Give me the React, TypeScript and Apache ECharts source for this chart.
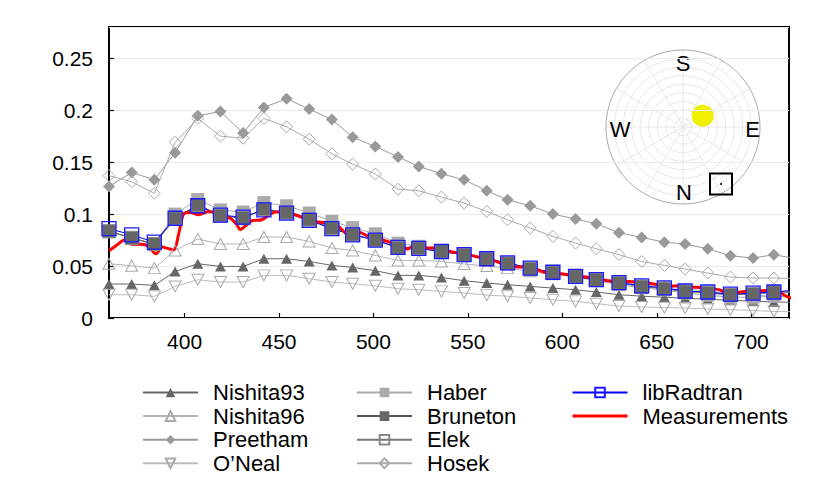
import React, { useEffect, useRef } from "react";
import * as echarts from "echarts";

const WAVELENGTHS = [360, 372, 384, 395, 407, 419, 431, 442, 454, 466, 478, 489, 501, 513, 524, 536, 548, 560, 571, 583, 595, 607, 618, 630, 642, 654, 665, 677, 689, 701, 712, 724];

const NISHITA93 = [0.0327, 0.0327, 0.0314, 0.0448, 0.0522, 0.0496, 0.0496, 0.057, 0.057, 0.0544, 0.0506, 0.0487, 0.0455, 0.041, 0.041, 0.039, 0.0359, 0.0336, 0.032, 0.0304, 0.0288, 0.0272, 0.025, 0.0224, 0.021, 0.02, 0.019, 0.018, 0.017, 0.016, 0.0155, 0.015];
const NISHITA96 = [0.0522, 0.0503, 0.048, 0.065, 0.076, 0.0712, 0.0712, 0.078, 0.078, 0.0737, 0.0673, 0.065, 0.0602, 0.0554, 0.0554, 0.0544, 0.052, 0.05, 0.048, 0.045, 0.042, 0.04, 0.037, 0.035, 0.032, 0.03, 0.028, 0.026, 0.024, 0.022, 0.021, 0.02];
const PREETHAM = [0.1265, 0.14, 0.133, 0.159, 0.1945, 0.1987, 0.178, 0.2025, 0.211, 0.201, 0.191, 0.174, 0.165, 0.155, 0.1458, 0.1388, 0.133, 0.1224, 0.1137, 0.108, 0.1, 0.0952, 0.0907, 0.082, 0.0775, 0.073, 0.0711, 0.0666, 0.0599, 0.0577, 0.0609, 0.057];
const ONEAL = [0.0224, 0.0224, 0.0208, 0.0304, 0.0368, 0.0346, 0.0346, 0.041, 0.041, 0.0378, 0.0346, 0.033, 0.031, 0.0282, 0.0272, 0.0256, 0.024, 0.022, 0.021, 0.0192, 0.0176, 0.016, 0.0138, 0.0115, 0.0106, 0.01, 0.0096, 0.0087, 0.008, 0.0073, 0.0063, 0.006];
const HABER = [0.083, 0.077, 0.071, 0.1, 0.114, 0.104, 0.102, 0.111, 0.108, 0.101, 0.093, 0.087, 0.081, 0.072, 0.069, 0.065, 0.061, 0.056, 0.052, 0.047, 0.043, 0.039, 0.036, 0.032, 0.029, 0.027, 0.024, 0.022, 0.02, 0.02, 0.021, 0.02];
const BRUNETON = [0.0837, 0.077, 0.071, 0.096, 0.109, 0.0984, 0.096, 0.105, 0.1015, 0.0945, 0.0865, 0.08, 0.0753, 0.0673, 0.0673, 0.064, 0.0609, 0.0567, 0.0529, 0.0474, 0.0438, 0.04, 0.0368, 0.0336, 0.0304, 0.0282, 0.0256, 0.024, 0.0224, 0.023, 0.025, 0.025];
const ELEK = [0.0835, 0.0772, 0.0712, 0.0958, 0.1088, 0.0986, 0.0962, 0.1048, 0.1013, 0.0947, 0.0863, 0.0802, 0.0751, 0.0675, 0.0671, 0.0642, 0.0607, 0.0569, 0.0527, 0.0476, 0.0436, 0.0402, 0.0366, 0.0338, 0.0302, 0.0284, 0.0254, 0.0242, 0.0222, 0.0232, 0.0248, 0.025];
const HOSEK = [0.137, 0.131, 0.12, 0.169, 0.192, 0.175, 0.173, 0.192, 0.184, 0.172, 0.158, 0.148, 0.1385, 0.124, 0.1224, 0.1163, 0.1106, 0.1025, 0.0945, 0.0865, 0.0785, 0.0721, 0.0666, 0.061, 0.0544, 0.0506, 0.0471, 0.0433, 0.0394, 0.0385, 0.0385, 0.038];
const LIBRADTRAN = [0.086, 0.08, 0.073, 0.096, 0.108, 0.099, 0.097, 0.104, 0.101, 0.094, 0.086, 0.08, 0.075, 0.068, 0.067, 0.064, 0.061, 0.057, 0.053, 0.048, 0.044, 0.04, 0.037, 0.034, 0.031, 0.029, 0.026, 0.025, 0.023, 0.024, 0.025, 0.027];

const MEAS_X = [360, 364, 368.5, 372, 377, 381, 384.8, 388.3, 391, 394.2, 397.2, 399.5, 403, 407.4, 412.7, 418.9, 424.2, 427.7, 429.5, 433, 435.6, 440.9, 444.4, 448, 451.5, 458.6, 465.6, 470.9, 479.8, 483.3, 486.8, 491.3, 497.4, 504.4, 510.6, 515, 517.7, 521.2, 525.6, 529.1, 534.4, 540.5, 543.2, 548.5, 555.5, 562.5, 569.6, 576.6, 582.8, 589.9, 596, 603.1, 610.2, 617.2, 624.3, 630.4, 634.8, 641.8, 650.6, 655.9, 659.4, 668.2, 676.2, 684.1, 687.6, 691.2, 698.2, 705.3, 710.6, 714.1, 719.4, 722];
const MEAS_Y = [0.0647, 0.07, 0.0753, 0.071, 0.071, 0.0689, 0.0618, 0.0683, 0.067, 0.0657, 0.0833, 0.1, 0.1015, 0.0993, 0.1025, 0.0993, 0.096, 0.0897, 0.085, 0.0897, 0.0936, 0.0945, 0.0986, 0.102, 0.102, 0.0993, 0.0945, 0.0923, 0.0904, 0.085, 0.08, 0.0833, 0.0785, 0.0753, 0.072, 0.0712, 0.0663, 0.0689, 0.0683, 0.0673, 0.0673, 0.064, 0.0631, 0.0615, 0.0587, 0.056, 0.0512, 0.049, 0.0496, 0.0442, 0.0433, 0.0416, 0.04, 0.0385, 0.0359, 0.0352, 0.0352, 0.0343, 0.032, 0.0298, 0.031, 0.0298, 0.0288, 0.0266, 0.0208, 0.024, 0.0256, 0.0263, 0.0266, 0.0256, 0.0202, 0.019];

const Y_TICKS = [0, 0.05, 0.1, 0.15, 0.2, 0.25];
const X_TICKS = [400, 450, 500, 550, 600, 650, 700];

const FONT = "Liberation Sans";

function pairs(xs: number[], ys: number[]) {
  return xs.map((x, i) => [x, ys[i]]);
}

function App() {
  const ref = useRef<HTMLDivElement>(null);
  useEffect(() => {
    if (!ref.current) return;
    const chart = echarts.init(ref.current, null, { renderer: "svg" });

    const mk = (name: string, ys: number[], symbol: string, size: any, fill: string, border: string, line: string, extra: any = {}) => ({
      name,
      type: "line",
      data: pairs(WAVELENGTHS, ys),
      symbol,
      symbolSize: size,
      showSymbol: true,
      clip: true,
      lineStyle: { color: line, width: 1 },
      itemStyle: { color: fill, borderColor: border, borderWidth: fill === "rgba(0,0,0,0)" ? 1 : 0 },
      emphasis: { disabled: true },
      ...extra,
    });

    const series: any[] = [
      mk("Nishita93", NISHITA93, "triangle", [11, 10], "#666666", "#666666", "#666666"),
      mk("Nishita96", NISHITA96, "triangle", [12, 11], "rgba(0,0,0,0)", "#aaaaaa", "#b4b4b4"),
      mk("Preetham", PREETHAM, "diamond", [12, 12], "#999999", "#999999", "#999999"),
      mk("O\u2019Neal", ONEAL, "triangle", [12, 11], "rgba(0,0,0,0)", "#aaaaaa", "#bbbbbb", { symbolRotate: 180 }),
      mk("Haber", HABER, "rect", [13, 13], "#aaaaaa", "#aaaaaa", "#aaaaaa"),
      mk("Bruneton", BRUNETON, "rect", [13, 13], "#666666", "#666666", "#555555"),
      mk("Elek", ELEK, "rect", [13, 13], "rgba(0,0,0,0)", "#888888", "#777777"),
      mk("Hosek", HOSEK, "diamond", [12, 12], "rgba(0,0,0,0)", "#aaaaaa", "#aaaaaa"),
      {
        name: "libRadtran",
        type: "line",
        data: pairs(WAVELENGTHS, LIBRADTRAN),
        symbol: "rect",
        symbolSize: [14, 14],
        clip: true,
        lineStyle: { color: "#0000ff", width: 1 },
        itemStyle: { color: "rgba(0,0,0,0)", borderColor: "#1a1aff", borderWidth: 1.3 },
        emphasis: { disabled: true },
      },
      {
        name: "Measurements",
        type: "line",
        data: pairs(MEAS_X, MEAS_Y),
        symbol: "none",
        smooth: 0.3,
        clip: true,
        lineStyle: { color: "#ff0000", width: 3 },
        itemStyle: { color: "#ff0000" },
        emphasis: { disabled: true },
      },
    ];

    const legendCommon = {
      orient: "vertical",
      top: 381.5,
      padding: 0,
      itemWidth: 55,
      itemHeight: 12,
      itemGap: 1.6,
      selectedMode: false,
      textStyle: { fontSize: 22, fontFamily: FONT, color: "#000", lineHeight: 20, padding: [0, 0, 0, 10] },
    };

    const cx = 683, cy = 127, R = 77;
    const rings: any[] = [];
    for (let i = 1; i <= 8; i++) {
      rings.push({ type: "circle", shape: { cx, cy, r: (R * i) / 9 }, style: { fill: "none", stroke: "#e8e8e8", lineWidth: 1 }, silent: true });
    }
    const spokes: any[] = [];
    for (let k = 0; k < 12; k++) {
      const a = (k * Math.PI) / 6;
      spokes.push({ type: "line", shape: { x1: cx, y1: cy, x2: cx + R * Math.cos(a), y2: cy + R * Math.sin(a) }, style: { stroke: "#e8e8e8", lineWidth: 1 }, silent: true });
    }
    const compassText = (text: string, x: number, y: number) => ({
      type: "text", x, y, silent: true,
      style: { text, fontSize: 22, fontFamily: FONT, fill: "#000", align: "center", verticalAlign: "middle" },
    });

    const option: any = {
      animation: false,
      backgroundColor: "#fff",
      grid: { left: 109, right: 41, top: 27, bottom: 170, show: true, borderColor: "#000", borderWidth: 2, backgroundColor: "rgba(0,0,0,0)" },
      xAxis: {
        type: "value",
        min: 360,
        max: 720,
        splitNumber: 7,
        axisLine: { show: false },
        axisTick: { inside: true, length: 5, lineStyle: { color: "#000", width: 1.2 } },
        splitLine: { show: false },
        axisLabel: {
          fontSize: 21, fontFamily: FONT, color: "#000", margin: 13,
          showMinLabel: false, showMaxLabel: false,
          formatter: (v: number) => (X_TICKS.indexOf(v) >= 0 ? String(v) : ""),
        },
      },
      yAxis: {
        type: "value",
        min: 0,
        max: 0.28,
        interval: 0.05,
        axisLine: { show: false },
        axisTick: { inside: true, length: 5, lineStyle: { color: "#000", width: 1.2 } },
        splitLine: { show: true, lineStyle: { color: "#ebebeb", width: 1 } },
        axisLabel: {
          fontSize: 21, fontFamily: FONT, color: "#000", margin: 16,
          showMaxLabel: false,
          formatter: (v: number) => (Y_TICKS.some((t) => Math.abs(t - v) < 1e-9) ? String(+v.toFixed(2)) : ""),
        },
      },
      legend: [
        { ...legendCommon, left: 142, data: ["Nishita93", "Nishita96", "Preetham", "O\u2019Neal"] },
        { ...legendCommon, left: 356, data: ["Haber", "Bruneton", "Elek", "Hosek"] },
        {
          ...legendCommon, left: 571,
          data: [
            "libRadtran",
            { name: "Measurements", itemStyle: { color: "rgba(0,0,0,0)", borderWidth: 0, opacity: 0 }, lineStyle: { color: "#ff0000", width: 3 } },
          ],
        },
      ],
      graphic: [
        {
          type: "group",
          z: 5,
          children: [
            { type: "circle", shape: { cx, cy: cy - 2, r: R + 6 }, style: { fill: "#fff" }, silent: true },
            ...rings,
            ...spokes,
            { type: "circle", shape: { cx, cy, r: R }, style: { fill: "none", stroke: "#aaaaaa", lineWidth: 1 }, silent: true },
            compassText("S", cx, 63),
            compassText("W", 620, 129),
            compassText("E", 752.5, 129),
            compassText("N", 684, 192),
            { type: "circle", shape: { cx: 702.7, cy: 115.7, r: 11 }, style: { fill: "#f0f000" }, silent: true },
            { type: "rect", shape: { x: 710, y: 173.5, width: 22, height: 21 }, style: { fill: "none", stroke: "#000", lineWidth: 2 }, silent: true },
            { type: "circle", shape: { cx: 721, cy: 184, r: 1 }, style: { fill: "#000" }, silent: true },
          ],
        },
      ],
      series,
    };

    chart.setOption(option);
    return () => chart.dispose();
  }, []);

  return <div ref={ref} style={{ position: "absolute", left: 0, top: 0, width: 830, height: 488 }} />;
}

export default App;
